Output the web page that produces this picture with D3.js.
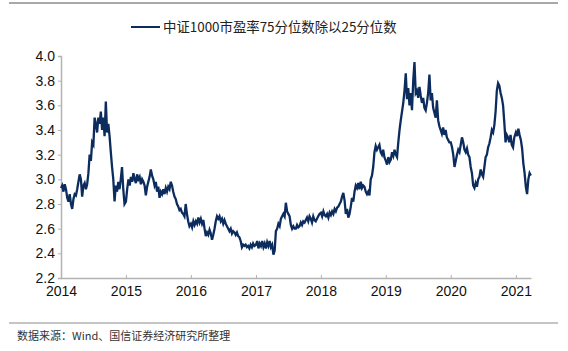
<!DOCTYPE html>
<html>
<head>
<meta charset="utf-8">
<script src="https://cdn.jsdelivr.net/npm/d3@7"></script>
<style>
  body { margin: 0; background: #fff; }
  svg { display: block; font-family: "Liberation Sans", Arial, sans-serif; }
</style>
</head>
<body>
<div id="chart"></div>
<script>
// weekly readings, one array per year
const v2014 = [2.93, 2.95, 2.90, 2.96, 2.92, 2.85, 2.82, 2.88, 2.80, 2.76, 2.84, 2.88, 2.87, 2.92,
  2.98, 3.04, 3.00, 2.86, 2.95, 2.97, 2.92, 2.96, 3.05, 3.20, 3.15, 3.30, 3.28, 3.50, 3.45,
  3.38, 3.50, 3.45, 3.55, 3.40, 3.50, 3.35, 3.63, 3.38, 3.45, 3.35, 3.22, 3.10, 3.00, 2.82,
  2.95, 2.90, 2.98, 2.92, 3.00, 3.10, 2.92, 2.80];
const v2015 = [2.82, 2.92, 3.00, 2.95, 3.02, 2.98, 3.05, 3.00, 2.97, 3.04, 3.00, 3.02, 2.96,
  3.00, 2.98, 2.95, 2.87, 2.94, 2.98, 3.02, 3.08, 3.03, 3.00, 2.95, 2.98, 2.90, 2.94, 2.85,
  2.90, 2.88, 2.92, 2.88, 2.93, 2.90, 2.94, 2.92, 2.98, 2.95, 2.90, 2.86, 2.84, 2.80, 2.78,
  2.75, 2.76, 2.73, 2.72, 2.70, 2.80, 2.72, 2.66, 2.62];
const v2016 = [2.64, 2.61, 2.66, 2.63, 2.66, 2.64, 2.69, 2.65, 2.68, 2.64, 2.67, 2.60, 2.54,
  2.57, 2.55, 2.59, 2.56, 2.51, 2.55, 2.60, 2.66, 2.70, 2.68, 2.70, 2.66, 2.68, 2.64, 2.67,
  2.64, 2.62, 2.60, 2.58, 2.60, 2.56, 2.58, 2.57, 2.55, 2.57, 2.54, 2.53, 2.50, 2.45, 2.47,
  2.46, 2.47, 2.45, 2.46, 2.44, 2.47, 2.45, 2.48, 2.46];
const v2017 = [2.47, 2.50, 2.44, 2.48, 2.46, 2.50, 2.45, 2.48, 2.44, 2.49, 2.46, 2.50, 2.45,
  2.47, 2.39, 2.42, 2.58, 2.60, 2.64, 2.62, 2.68, 2.70, 2.72, 2.70, 2.81, 2.74, 2.72, 2.70,
  2.63, 2.60, 2.62, 2.60, 2.60, 2.63, 2.61, 2.62, 2.65, 2.63, 2.66, 2.65, 2.67, 2.69, 2.66,
  2.70, 2.68, 2.65, 2.70, 2.67, 2.66, 2.68, 2.70, 2.72];
const v2018 = [2.73, 2.70, 2.74, 2.71, 2.70, 2.72, 2.69, 2.73, 2.71, 2.74, 2.72, 2.76, 2.74,
  2.77, 2.78, 2.80, 2.82, 2.86, 2.89, 2.83, 2.72, 2.76, 2.69, 2.72, 2.78, 2.85, 2.82, 2.90,
  2.95, 2.93, 2.97, 2.92, 2.98, 2.93, 2.95, 2.94, 2.90, 2.88, 2.90, 2.87, 3.00, 3.03, 3.10,
  3.22, 3.27, 3.24, 3.26, 3.28, 3.22, 3.20, 3.24, 3.18];
const v2019 = [3.15, 3.12, 3.18, 3.14, 3.16, 3.22, 3.19, 3.24, 3.20, 3.18, 3.30, 3.40, 3.48,
  3.55, 3.62, 3.72, 3.86, 3.65, 3.74, 3.60, 3.70, 3.56, 3.80, 3.95, 3.70, 3.72, 3.66, 3.75,
  3.68, 3.62, 3.66, 3.58, 3.56, 3.62, 3.70, 3.85, 3.64, 3.70, 3.58, 3.54, 3.50, 3.64, 3.48,
  3.43, 3.40, 3.37, 3.42, 3.36, 3.40, 3.34, 3.32, 3.30];
const v2020 = [3.30, 3.26, 3.20, 3.10, 3.15, 3.20, 3.24, 3.22, 3.28, 3.34, 3.30, 3.24, 3.22,
  3.25, 3.20, 3.18, 3.10, 3.05, 2.95, 2.93, 2.97, 2.94, 3.00, 3.02, 3.08, 3.04, 3.02, 3.10,
  3.18, 3.20, 3.26, 3.29, 3.34, 3.40, 3.38, 3.44, 3.55, 3.72, 3.78, 3.76, 3.70, 3.66, 3.60,
  3.46, 3.30, 3.36, 3.34, 3.30, 3.36, 3.28, 3.26, 3.34];
const v2021 = [3.38, 3.35, 3.41, 3.36, 3.32, 3.25, 3.13, 3.05, 2.94, 2.88, 3.00, 3.05, 3.03];

const years = [2014, 2015, 2016, 2017, 2018, 2019, 2020, 2021];
const yearValues = [v2014, v2015, v2016, v2017, v2018, v2019, v2020, v2021];
const yTicks = [2.2, 2.4, 2.6, 2.8, 3.0, 3.2, 3.4, 3.6, 3.8, 4.0];
const seriesName = "中证1000市盈率75分位数除以25分位数";
const sourceNote = "数据来源：Wind、国信证券经济研究所整理";

// build the table: one point per week
const data = [];
years.forEach((yr, k) => {
  yearValues[k].forEach((v, i) => {
    data.push({ date: new Date(yr, 0, 1 + i * 7), value: v });
  });
});

const W = 568, H = 351;
const margin = { top: 56, right: 37, bottom: 73, left: 61 };
const width = W - margin.left - margin.right;
const height = H - margin.top - margin.bottom;
const lineColor = "#0c2c5e";
const axisColor = "#b3b3b3";

const svg = d3.select("#chart").append("svg")
    .attr("width", W)
    .attr("height", H);

// frame rules top and bottom
svg.append("line").attr("x1", 9).attr("x2", 558).attr("y1", 3).attr("y2", 3)
    .attr("stroke", "#8c8c8c").attr("stroke-width", 1.5);
svg.append("line").attr("x1", 9).attr("x2", 558).attr("y1", 323).attr("y2", 323)
    .attr("stroke", "#8c8c8c").attr("stroke-width", 1.2);

// legend
svg.append("line").attr("x1", 131).attr("x2", 160).attr("y1", 27).attr("y2", 27)
    .attr("stroke", lineColor).attr("stroke-width", 2);
svg.append("text").attr("x", 163).attr("y", 32)
    .style("font-family", "'Noto Sans CJK SC', 'Liberation Sans', sans-serif")
    .style("font-size", "13.4px").attr("fill", "#222")
    .text(seriesName);

const g = svg.append("g").attr("transform", `translate(${margin.left},${margin.top})`);

const x = d3.scaleTime()
    .domain([new Date(2014, 0, 1), new Date(2021, 2, 27)])
    .range([0, width]);

const y = d3.scaleLinear()
    .domain([2.2, 4.0])
    .range([height, 0]);

// y axis
const yAxis = g.append("g")
    .call(d3.axisLeft(y).tickValues(yTicks).tickFormat(d3.format(".1f")).tickSize(3).tickPadding(3));
yAxis.select(".domain").attr("stroke", axisColor).attr("stroke-width", 1.5);
yAxis.selectAll(".tick line").attr("stroke", axisColor);
yAxis.selectAll("text").attr("fill", "#111").style("font-size", "14px");

// x axis, ticks point up into the plot
const xAxis = g.append("g")
    .attr("transform", `translate(0,${height})`)
    .call(d3.axisBottom(x).tickValues(years.map(yr => new Date(yr, 0, 1)))
        .tickFormat(d3.timeFormat("%Y")).tickSizeInner(-3).tickSizeOuter(0).tickPadding(8));
xAxis.select(".domain").attr("stroke", axisColor).attr("stroke-width", 1.5);
xAxis.selectAll(".tick line").attr("stroke", axisColor);
xAxis.selectAll("text").attr("fill", "#111").style("font-size", "14px");

// the series
const line = d3.line()
    .x(d => x(d.date))
    .y(d => y(d.value));

g.append("path")
    .datum(data)
    .attr("fill", "none")
    .attr("stroke", lineColor)
    .attr("stroke-width", 2.3)
    .attr("stroke-linejoin", "miter")
    .attr("d", line);

// source note
svg.append("text").attr("x", 17).attr("y", 340)
    .style("font-family", "'Noto Sans CJK SC', sans-serif")
    .style("font-size", "11px").attr("fill", "#333")
    .text(sourceNote);
</script>
</body>
</html>
